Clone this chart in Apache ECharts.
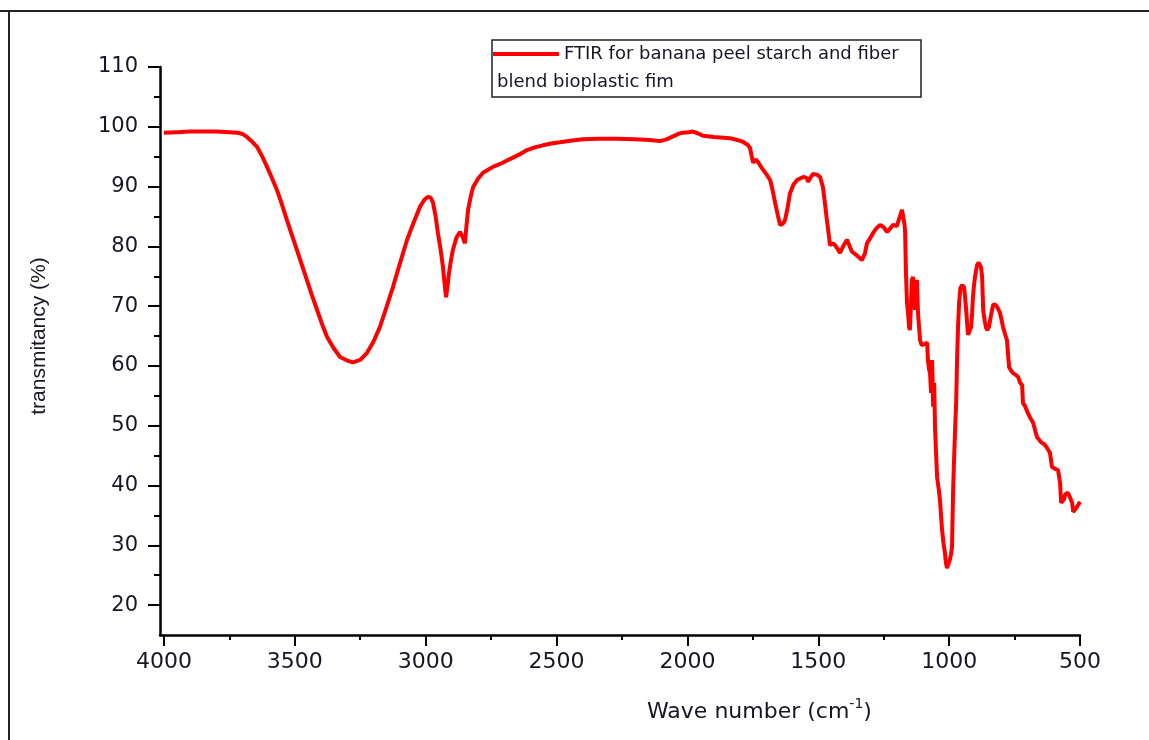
<!DOCTYPE html>
<html>
<head>
<meta charset="utf-8">
<script src="https://cdn.jsdelivr.net/npm/echarts@6/dist/echarts.min.js"></script>
<style>
  html, body { margin: 0; padding: 0; background: #fff; }
  #chart { width: 1149px; height: 740px; }
</style>
</head>
<body>
<div id="chart"></div>
<script>
const wavenumbers = [
  4000, 3950, 3900, 3850, 3800, 3750, 3717, 3700, 3683, 3665, 3645, 3625, 3606, 3587, 3568, 3549,
  3530, 3511, 3492, 3473, 3454, 3435, 3415, 3396, 3377, 3352, 3327, 3300, 3278, 3250, 3224, 3200,
  3175, 3150, 3125, 3098, 3071, 3046, 3022, 3005, 2991, 2980, 2972, 2962, 2953, 2943, 2934, 2926,
  2922, 2916, 2911, 2904, 2896, 2882, 2869, 2858, 2850, 2845, 2838, 2828, 2819, 2800, 2781, 2743,
  2710, 2678, 2645, 2613, 2580, 2552, 2520, 2487, 2440, 2399, 2340, 2269, 2200, 2143, 2105, 2080,
  2055, 2030, 2017, 1995, 1979, 1960, 1940, 1900, 1837, 1810, 1788, 1770, 1761, 1755, 1749, 1738,
  1730, 1720, 1711, 1697, 1684, 1675, 1665, 1655, 1646, 1635, 1627, 1617, 1608, 1595, 1581, 1558,
  1545, 1539, 1530, 1520, 1505, 1493, 1482, 1474, 1467, 1460, 1455, 1445, 1436, 1425, 1417, 1405,
  1390, 1380, 1371, 1350, 1333, 1322, 1314, 1300, 1291, 1278, 1264, 1250, 1237, 1225, 1214, 1200,
  1195, 1188, 1180, 1176, 1170, 1168, 1165, 1161, 1157, 1153, 1150, 1146, 1142, 1138, 1134, 1130,
  1126, 1123, 1119, 1115, 1111, 1105, 1100, 1092, 1084, 1081, 1077, 1073, 1069, 1065, 1061, 1057,
  1054, 1050, 1046, 1040, 1035, 1031, 1027, 1022, 1016, 1012, 1008, 1003, 997, 993, 989, 985,
  981, 977, 973, 970, 966, 962, 957, 951, 947, 943, 939, 935, 931, 928, 922, 916,
  912, 909, 905, 901, 897, 893, 887, 882, 878, 874, 870, 864, 859, 854, 848, 840,
  832, 824, 817, 810, 806, 800, 794, 786, 779, 775, 771, 763, 756, 745, 737, 729,
  721, 718, 710, 699, 690, 679, 670, 664, 650, 634, 625, 615, 607, 595, 584, 576,
  572, 565, 560, 557, 546, 538, 530, 526, 518, 512, 505, 500
];

// transmitancy (%)
const transmitancy = [
  99.0, 99.1, 99.2, 99.2, 99.2, 99.1, 99.0, 98.8, 98.3, 97.6, 96.7, 95.1, 93.3, 91.4, 89.4, 87.0,
  84.4, 81.9, 79.4, 76.9, 74.4, 71.9, 69.4, 67.0, 64.9, 63.0, 61.5, 60.9, 60.6, 61.0, 62.2, 64.0,
  66.5, 69.8, 73.2, 77.2, 81.1, 84.0, 86.6, 87.8, 88.3, 88.1, 87.3, 85.0, 82.2, 79.5, 76.6, 73.0,
  71.5, 73.5, 75.5, 77.5, 79.4, 81.5, 82.4, 81.5, 80.5, 83.0, 86.1, 88.3, 89.9, 91.3, 92.3, 93.3,
  93.9, 94.6, 95.3, 96.1, 96.6, 96.9, 97.2, 97.4, 97.7, 97.9, 98.0, 98.0, 97.9, 97.8, 97.6, 97.9,
  98.4, 98.9, 99.0, 99.1, 99.2, 98.9, 98.5, 98.3, 98.1, 97.8, 97.5, 97.0, 96.5, 95.2, 94.0, 94.5,
  94.1, 93.4, 92.8, 92.0, 91.1, 89.5, 87.3, 85.3, 83.6, 83.8, 84.4, 86.5, 88.9, 90.3, 91.1, 91.6,
  91.5, 90.8, 91.5, 92.1, 92.0, 91.6, 89.9, 87.0, 84.4, 82.0, 80.2, 80.5, 80.2, 79.5, 78.9, 80.0,
  81.1, 80.0, 79.1, 78.4, 77.7, 78.8, 80.5, 81.5, 82.2, 83.0, 83.6, 83.2, 82.4, 83.0, 83.6, 83.4,
  83.2, 85.0, 86.1, 85.8, 83.5, 82.2, 75.7, 70.5, 68.9, 66.5, 66.0, 70.0, 74.4, 74.9, 72.0, 69.4,
  72.0, 74.4, 68.9, 66.5, 64.3, 63.5, 63.2, 63.7, 63.9, 61.0, 59.5, 58.8, 55.5, 61.0, 53.2, 57.2,
  49.8, 45.5, 41.4, 39.5, 37.6, 35.0, 32.6, 30.5, 28.7, 27.0, 26.2, 26.5, 27.6, 28.5, 29.7, 38.8,
  44.5, 49.8, 54.0, 60.5, 66.5, 70.5, 73.0, 73.5, 73.4, 73.2, 71.5, 69.4, 67.0, 65.2, 65.5, 66.5,
  69.0, 71.5, 73.5, 74.9, 76.0, 76.9, 77.3, 77.2, 76.5, 74.9, 69.4, 67.5, 66.4, 66.0, 66.5, 68.5,
  70.2, 70.3, 69.9, 69.3, 68.9, 67.8, 66.5, 65.3, 64.3, 62.0, 59.8, 59.2, 58.8, 58.5, 58.2, 57.2,
  56.8, 53.8, 53.3, 52.1, 51.3, 50.5, 49.0, 48.1, 47.3, 46.8, 46.2, 45.5, 43.1, 42.8, 42.6, 40.4,
  37.1, 36.8, 37.8, 38.5, 38.8, 38.0, 37.1, 35.6, 36.0, 36.4, 36.9, 37.3
];

const xMajorTicks = [500, 1000, 1500, 2000, 2500, 3000, 3500, 4000];
const xMinorTicks = [750, 1250, 1750, 2250, 2750, 3250, 3750];
const yMajorTicks = [20, 30, 40, 50, 60, 70, 80, 90, 100, 110];
const yMinorTicks = [25, 35, 45, 55, 65, 75, 85, 95, 105];

const seriesName = 'FTIR for banana peel starch and fiber';
const seriesName2 = 'blend bioplastic fim';

const chart = echarts.init(document.getElementById('chart'), null, { renderer: 'canvas' });

const TEXT = '#161626';
const AXIS = '#000';

const xBase = {
  type: 'value',
  position: 'bottom',
  inverse: true,
  min: 500,
  max: 4015,
  splitLine: { show: false },
  axisLine: { onZero: false },
};
const yBase = {
  type: 'value',
  position: 'left',
  min: 15,
  max: 110,
  splitLine: { show: false },
  axisLine: { onZero: false },
};

chart.setOption({
  animation: false,
  backgroundColor: '#fff',
  grid: { left: 160, right: 69, top: 67, bottom: 105 },
  legend: {
    data: [{ name: seriesName, icon: 'rect' }],
    left: 493,
    top: 45,
    padding: 0,
    itemWidth: 66,
    itemHeight: 4,
    itemGap: 0,
    textStyle: { fontFamily: 'DejaVu Sans', fontSize: 18, color: TEXT },
  },
  xAxis: [
    {
      ...xBase,
      name: 'Wave number (cm{sup|-1})',
      nameLocation: 'middle',
      nameGap: 66,
      nameTextStyle: {
        fontFamily: 'DejaVu Sans', fontSize: 22, color: TEXT, align: 'left', padding: [0, 0, 0, 27],
        rich: { sup: { fontFamily: 'DejaVu Sans', fontSize: 14, lineHeight: 14, color: TEXT, verticalAlign: 'bottom', padding: [0, 0, 12, 0] } },
      },
      axisLine: { onZero: false, lineStyle: { color: AXIS, width: 2.5 } },
      axisTick: { customValues: xMajorTicks, length: 11, lineStyle: { color: AXIS, width: 2 } },
      axisLabel: { customValues: xMajorTicks, formatter: v => String(v), fontFamily: 'DejaVu Sans', fontSize: 22, color: TEXT, margin: 16 },
    },
    {
      ...xBase,
      axisLine: { show: false, onZero: false },
      axisTick: { customValues: xMinorTicks, length: 5, lineStyle: { color: AXIS, width: 2 } },
      axisLabel: { show: false },
    },
  ],
  yAxis: [
    {
      ...yBase,
      name: 'transmitancy (%)',
      nameLocation: 'middle',
      nameGap: 110,
      nameTextStyle: { fontFamily: 'Liberation Sans', fontSize: 21, color: TEXT, padding: [0, 0, 0, 30] },
      axisLine: { show: true, onZero: false, lineStyle: { color: AXIS, width: 2.5 } },
      axisTick: { show: true, customValues: yMajorTicks, length: 12, lineStyle: { color: AXIS, width: 2 } },
      axisLabel: { customValues: yMajorTicks, formatter: v => String(v), fontFamily: 'DejaVu Sans', fontSize: 21, color: TEXT, margin: 22 },
    },
    {
      ...yBase,
      axisLine: { show: false, onZero: false },
      axisTick: { show: true, customValues: yMinorTicks, length: 6, lineStyle: { color: AXIS, width: 2 } },
      axisLabel: { show: false },
    },
  ],
  series: [{
    name: seriesName,
    type: 'line',
    xAxisIndex: 0,
    yAxisIndex: 0,
    data: wavenumbers.map((w, i) => [w, transmitancy[i]]),
    symbol: 'none',
    color: '#ff0000',
    lineStyle: { width: 4, color: '#ff0000' },
  }],
  graphic: [
    // picture frame
    { type: 'line', shape: { x1: 0, y1: 11, x2: 1149, y2: 11 }, style: { stroke: '#222', lineWidth: 2 } },
    { type: 'line', shape: { x1: 9, y1: 11, x2: 9, y2: 740 }, style: { stroke: '#222', lineWidth: 2 } },
    // legend box + second line of the legend text
    { type: 'rect', shape: { x: 492, y: 40, width: 429, height: 57 }, style: { fill: 'none', stroke: '#222', lineWidth: 1.5 } },
    {
      type: 'text', x: 497, y: 82,
      style: { text: seriesName2, font: '18px "DejaVu Sans"', fill: TEXT, verticalAlign: 'middle' },
    },
  ],
});
</script>
</body>
</html>
